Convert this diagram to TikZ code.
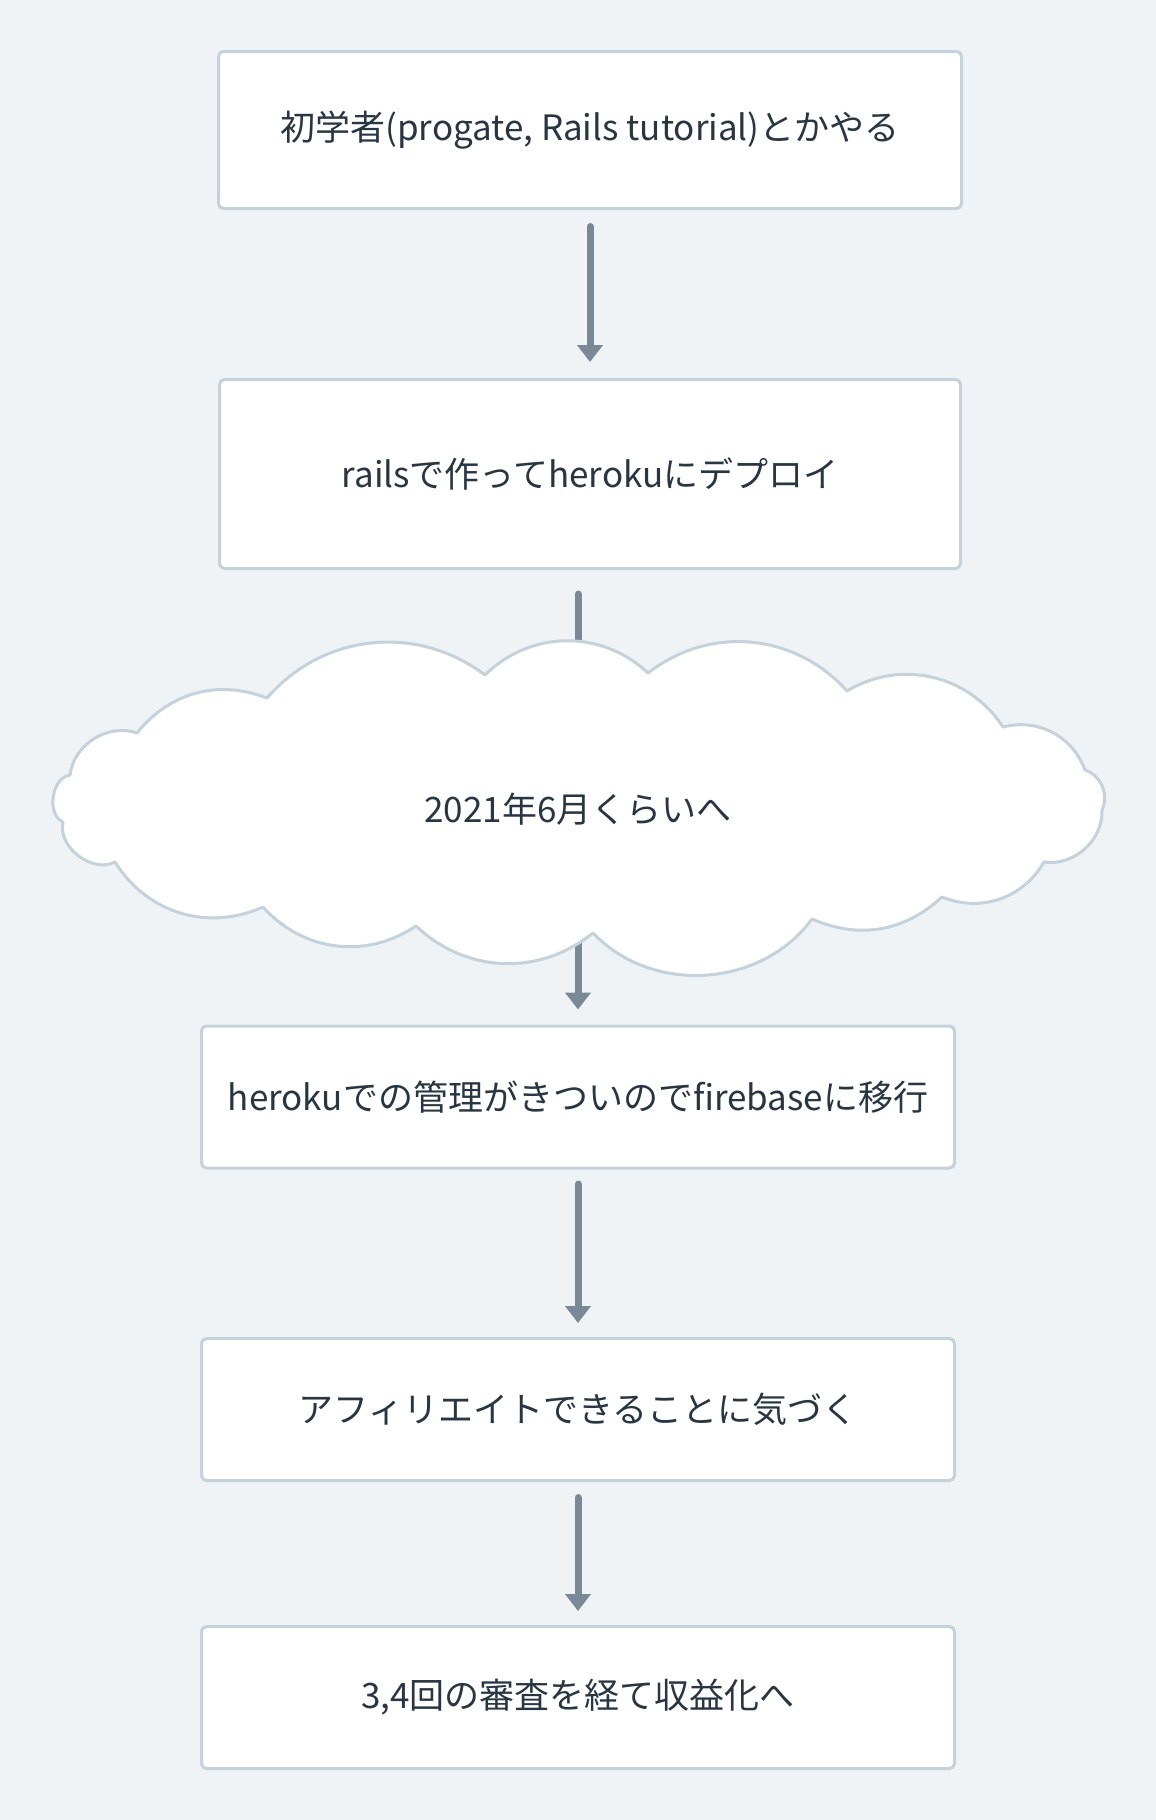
\documentclass[tikz,border=0pt]{standalone}
\usepackage{fontspec}
\setmainfont{Noto Sans CJK JP}
\usepackage{xcolor}
\usepackage{tikz}
\usetikzlibrary{arrows.meta,calc,positioning}
\definecolor{pagebg}{RGB}{239,243,246}
\definecolor{boxline}{RGB}{197,209,219}
\definecolor{linkgray}{RGB}{122,137,151}
\definecolor{flowtext}{RGB}{40,54,68}
\pgfdeclarelayer{front}
\pgfsetlayers{main,front}

\begin{document}
\begin{tikzpicture}[
    x=0.5pt, y=-0.5pt,
    nosep/.style={inner sep=0},
    flowfont/.style={text=flowtext, font=\fontsize{17.5}{21}\selectfont},
    flowbox/.style={rectangle, draw=boxline, line width=1.5pt, fill=white, rounded corners=2.5pt,
        flowfont, minimum width=376.5pt, minimum height=71pt},
    flowlink/.style={draw=linkgray, line width=3.5pt, line cap=round},
    linkarrow/.style={flowlink, -{Triangle[width=12.5pt, length=8.5pt]}},
    cloudline/.style={draw=boxline, line width=1.5pt, fill=white, line join=round}]

\path[fill=pagebg] (0,0) rectangle (1156,1820);
\useasboundingbox (0,0) rectangle (1156,1820);

\begin{pgfonlayer}{front}
\node (S1) [flowbox, minimum width=371.5pt, minimum height=78.5pt] at (590,130) {初学者(progate, Rails tutorial)とかやる};
\node (S2) [flowbox, minimum width=370.5pt, minimum height=94.5pt] at (590,474) {railsで作ってherokuにデプロイ};
\path[cloudline] (137,733) to[bend left=36] (267,698) to[bend left=43] (485,675)
    to[bend left=44] (648,673) to[bend left=43] (847,691) to[bend left=44] (1003,727)
    to[bend left=42] (1085,770) to[bend left=48] (1102,810) to[bend left=50] (1044,862)
    to[bend left=41] (942,897) to[bend left=33] (812,919) to[bend left=50] (593,933)
    to[bend left=41] (416,926) to[bend left=41] (263,907) to[bend left=41] (115,862)
    to[bend left=65] (63,822) to[bend left=74] (70,775) to[bend left=51] (137,733) -- cycle;
\node (CL) [nosep, flowfont] at (578,809) {2021年6月くらいへ};
\node (S3) [flowbox] at (578,1097) {herokuでの管理がきついのでfirebaseに移行};
\node (S4) [flowbox] at (578,1409.5) {アフィリエイトできることに気づく};
\node (S5) [flowbox] at (578,1697.5) {3,4回の審査を経て収益化へ};
\end{pgfonlayer}

\path[linkarrow, shorten <=8.25pt, shorten >=8pt] (S1) -- (S2);
\path[flowlink, shorten <=12pt] (S2.south -| CL) -- (CL);
\path[linkarrow, shorten >=7.5pt] (CL) -- (S3);
\path[linkarrow, shorten <=7.25pt, shorten >=7pt] (S3) -- (S4);
\path[linkarrow, shorten <=7.75pt, shorten >=7pt] (S4) -- (S5);

\end{tikzpicture}
\end{document}
